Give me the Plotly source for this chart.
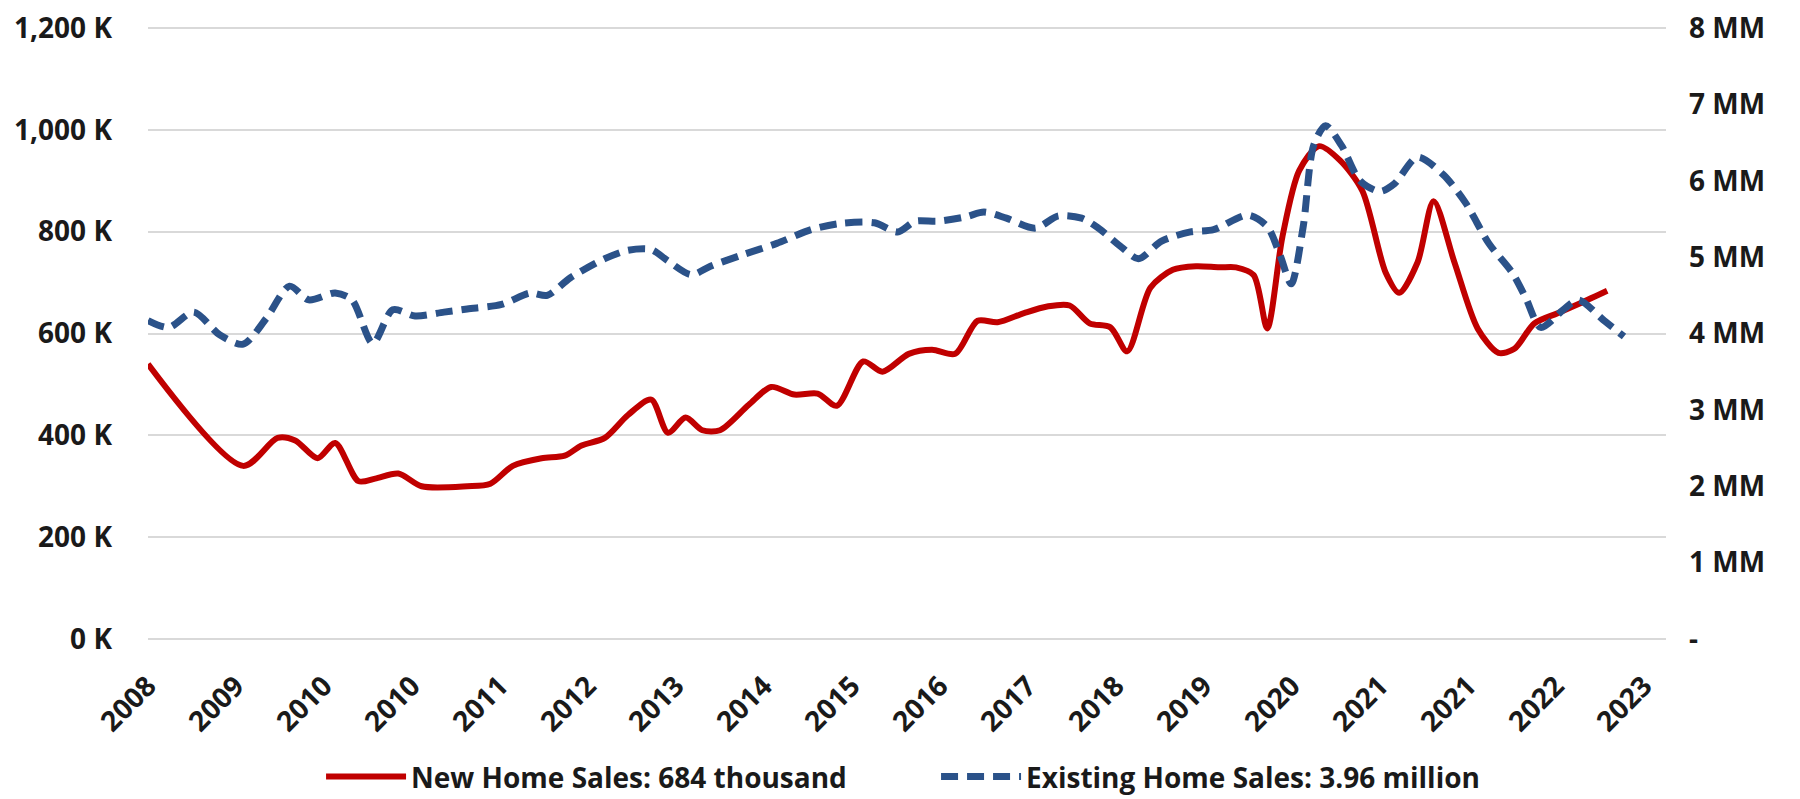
import plotly.graph_objects as go

# ---- data (months since Jan 2008) ----
months_new = [0, 11.9, 16.2, 18.4, 21.2, 23.4, 26.3, 28.4, 31.3, 34.2, 39.9, 42.8, 45.6, 49.2,
              52.1, 54.2, 57.1, 60.0, 62.9, 65.0, 67.2, 69.3, 71.5, 75.1, 77.9, 80.8, 83.7, 86.1,
              89.4, 91.8, 95.1, 98.0, 100.9, 103.7, 106.2, 109.5, 112.4, 115.2, 117.7, 120.3,
              122.4, 125.3, 128.1, 131.0, 133.9, 136.0, 138.2, 139.9, 141.8, 143.9, 146.4, 149.0,
              151.8, 154.7, 156.4, 158.7, 160.7, 163.3, 166.2, 168.8, 170.8, 173.3, 176.2, 179.1,
              182.4]
new_sales_k = [540, 340, 395, 390, 355, 385, 310, 315, 325, 300, 300, 305, 340, 355,
               360, 380, 395, 440, 470, 405, 435, 410, 410, 460, 495, 480, 482, 458,
               545, 525, 560, 568, 560, 625, 622, 640, 653, 655, 620, 612,
               565, 690, 725, 732, 730, 730, 715, 610, 790, 920, 968, 940,
               880, 720, 680, 740, 860, 740, 610, 562, 570, 620, 640, 660,
               684]

months_existing = [0, 2.6, 5.7, 9.0, 11.9, 14.8, 17.7, 20.1, 23.4, 25.5, 28.1, 30.6, 33.4, 37.0,
                   39.9, 44.2, 47.8, 49.9, 52.8, 57.1, 60.0, 62.9, 65.0, 67.9, 70.3, 74.3, 78.6,
                   82.9, 86.5, 90.8, 93.7, 95.9, 98.7, 102.3, 104.5, 107.3, 110.9, 113.8, 116.7,
                   118.8, 121.7, 123.8, 126.7, 130.3, 133.2, 137.5, 139.9, 141.5, 142.9, 144.4,
                   145.7, 147.2, 149.2, 151.5, 154.0, 155.8, 158.7, 161.9, 164.7, 167.6, 170.5,
                   172.2, 174.1, 176.9, 178.8, 182.0, 184.5]
existing_sales_mm = [4.17, 4.08, 4.28, 3.98, 3.86, 4.20, 4.62, 4.44, 4.53, 4.44, 3.87, 4.31, 4.23, 4.28,
                     4.32, 4.38, 4.53, 4.50, 4.73, 4.98, 5.09, 5.10, 4.95, 4.77, 4.88, 5.03, 5.18,
                     5.36, 5.44, 5.45, 5.33, 5.47, 5.47, 5.53, 5.59, 5.51, 5.38, 5.54, 5.51,
                     5.38, 5.13, 4.98, 5.21, 5.33, 5.36, 5.55, 5.40, 5.03, 4.65, 5.40,
                     6.46, 6.72, 6.46, 6.00, 5.86, 5.96, 6.31, 6.08, 5.71, 5.18, 4.80,
                     4.47, 4.08, 4.31, 4.44, 4.17, 3.96]

tick_months = [0, 11, 22, 33, 44, 55, 66, 77, 88, 99, 110, 121, 132, 143, 154, 165, 176, 187]
tick_labels = ["2008", "2009", "2010", "2010", "2011", "2012", "2013", "2014", "2015", "2016",
               "2017", "2018", "2019", "2020", "2021", "2021", "2022", "2023"]

left_ticks = [0, 200, 400, 600, 800, 1000, 1200]
left_labels = ["0 K", "200 K", "400 K", "600 K", "800 K", "1,000 K", "1,200 K"]
right_ticks = [0, 1, 2, 3, 4, 5, 6, 7, 8]
right_labels = ["-", "1 MM", "2 MM", "3 MM", "4 MM", "5 MM", "6 MM", "7 MM", "8 MM"]

RED = "#C00000"
BLUE = "#2B5289"
FONT = "Open Sans"

fig = go.Figure()
fig.add_trace(go.Scatter(
    x=months_new, y=new_sales_k, mode="lines", name="New Home Sales: 684 thousand",
    line=dict(color=RED, width=6, shape="spline", smoothing=0.8), yaxis="y"))
fig.add_trace(go.Scatter(
    x=months_existing, y=existing_sales_mm, mode="lines", name="Existing Home Sales: 3.96 million",
    line=dict(color=BLUE, width=7, shape="spline", smoothing=0.8, dash="17px,9px"), yaxis="y2"))

tickfont = dict(family=FONT, size=28, color="#1a1a1a", weight="bold")
pad = 1.0 / 300  # small padding so edge gridlines are drawn

fig.update_layout(
    width=1800, height=799,
    margin=dict(l=140, r=142, t=18, b=166, autoexpand=False),
    paper_bgcolor="white", plot_bgcolor="white",
    showlegend=True,
    legend=dict(orientation="h", x=0.114, xanchor="left", y=-0.221, yanchor="middle",
                font=dict(family=FONT, size=28, color="#1a1a1a", weight="bold"),
                itemwidth=80, entrywidth=520, traceorder="normal"),
    xaxis=dict(range=[0, 189.75], tickmode="array", tickvals=tick_months, ticktext=tick_labels,
               tickangle=-45, tickfont=tickfont, showgrid=False, zeroline=False,
               showline=False, ticks="", ticklabelstandoff=22, automargin=False,
               ticklabeloverflow="allow"),
    yaxis=dict(range=[-1200 * pad, 1200 * (1 + pad)], tickmode="array", tickvals=left_ticks,
               ticktext=left_labels, tickfont=tickfont, showgrid=True, gridcolor="#D9D9D9",
               gridwidth=2, zeroline=False, showline=False, ticks="", ticklabelstandoff=35,
               automargin=False, ticklabeloverflow="allow"),
    yaxis2=dict(range=[-8 * pad, 8 * (1 + pad)], tickmode="array", tickvals=right_ticks,
                ticktext=right_labels, tickfont=tickfont, overlaying="y", side="right",
                showgrid=False, zeroline=False, showline=False, ticks="", ticklabelstandoff=22,
                automargin=False, ticklabeloverflow="allow"),
)

fig.write_html("out.html")
